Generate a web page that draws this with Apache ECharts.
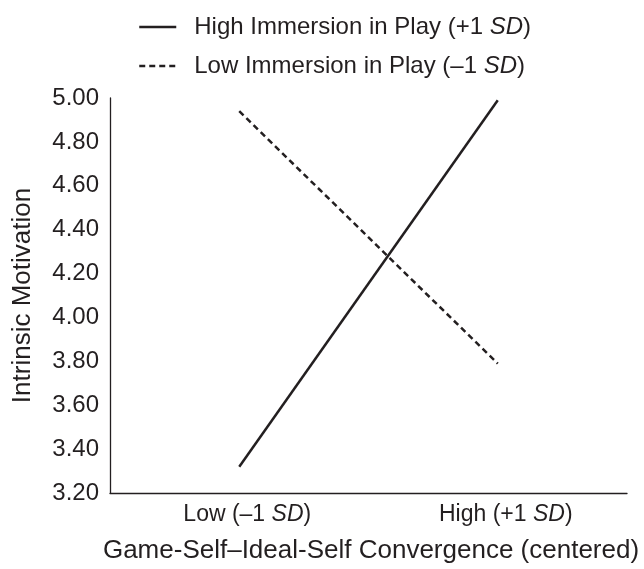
<!DOCTYPE html>
<html>
<head>
<meta charset="utf-8">
<style>
  html, body { margin: 0; padding: 0; background: #ffffff; }
  #chart { width: 644px; height: 569px; }
</style>
<script src="https://cdn.jsdelivr.net/npm/echarts@6/dist/echarts.min.js"></script>
</head>
<body>
<div id="chart"></div>
<script>
// Simple-slopes plot: intrinsic motivation by convergence level, split by immersion
const categories = ['Low (–1 SD)', 'High (+1 SD)'];
const highImmersion = [3.32, 4.99];
const lowImmersion = [4.94, 3.79];
const seriesNames = ['High Immersion in Play (+1 SD)', 'Low Immersion in Play (–1 SD)'];
const yTicks = { min: 3.2, max: 5.0, step: 0.2 };
const xTitle = 'Game-Self–Ideal-Self Convergence (centered)';
const yTitle = 'Intrinsic Motivation';

const INK = '#231f20';
const FONT = '"Liberation Sans", Arial, Helvetica, sans-serif';

// Set "SD" in italics inside rich text
function italicSD(s) {
  const parts = s.split('SD');
  return parts.map(p => p ? '{n|' + p + '}' : '').join('{i|SD}');
}
function richStyles(size) {
  return {
    n: { fontFamily: FONT, fontSize: size, color: INK },
    i: { fontFamily: FONT, fontSize: size, color: INK, fontStyle: 'italic' }
  };
}

const chart = echarts.init(document.getElementById('chart'), null, { renderer: 'canvas' });
chart.setOption({
  animation: false,
  backgroundColor: '#ffffff',
  grid: { left: 110, right: 17, top: 98, bottom: 74, containLabel: false },
  legend: {
    orient: 'vertical',
    left: 133,
    top: 10,
    itemWidth: 37,
    itemHeight: 24,
    itemGap: 15,
    data: seriesNames,
    // line-only keys: hide the marker symbol, keep the stroke
    itemStyle: { opacity: 0 },
    lineStyle: { opacity: 1, width: 2.5 },
    formatter: name => italicSD(name),
    textStyle: {
      fontFamily: FONT,
      fontSize: 24,
      color: INK,
      lineHeight: 24,
      padding: [0, 0, 0, 13],
      rich: richStyles(24)
    }
  },
  xAxis: {
    type: 'category',
    data: categories,
    boundaryGap: true,
    axisLine: { show: true, lineStyle: { color: INK, width: 1.3 } },
    axisTick: { show: false },
    splitLine: { show: false },
    axisLabel: {
      margin: 10,
      padding: [0, 0, 0, 16],
      formatter: v => italicSD(v),
      rich: richStyles(23)
    },
    name: xTitle,
    nameLocation: 'middle',
    nameGap: 45,
    nameTextStyle: { fontFamily: FONT, fontSize: 26, color: INK, padding: [0, 0, 0, 5] }
  },
  yAxis: {
    type: 'value',
    min: yTicks.min,
    max: yTicks.max,
    interval: yTicks.step,
    axisLine: { show: true, lineStyle: { color: INK, width: 1.3 } },
    axisTick: { show: false },
    splitLine: { show: false },
    axisLabel: {
      margin: 11,
      fontFamily: FONT,
      fontSize: 24,
      color: INK,
      formatter: v => v.toFixed(2)
    },
    name: yTitle,
    nameLocation: 'middle',
    nameGap: 74,
    nameRotate: 90,
    nameTextStyle: { fontFamily: FONT, fontSize: 26, color: INK }
  },
  series: [
    {
      name: seriesNames[0],
      type: 'line',
      data: highImmersion,
      symbol: 'none',
      lineStyle: { color: INK, width: 2.5, type: 'solid' },
      itemStyle: { color: INK }
    },
    {
      name: seriesNames[1],
      type: 'line',
      data: lowImmersion,
      symbol: 'none',
      lineStyle: { color: INK, width: 2.5, type: [6, 4] },
      itemStyle: { color: INK }
    }
  ]
});
</script>
</body>
</html>
